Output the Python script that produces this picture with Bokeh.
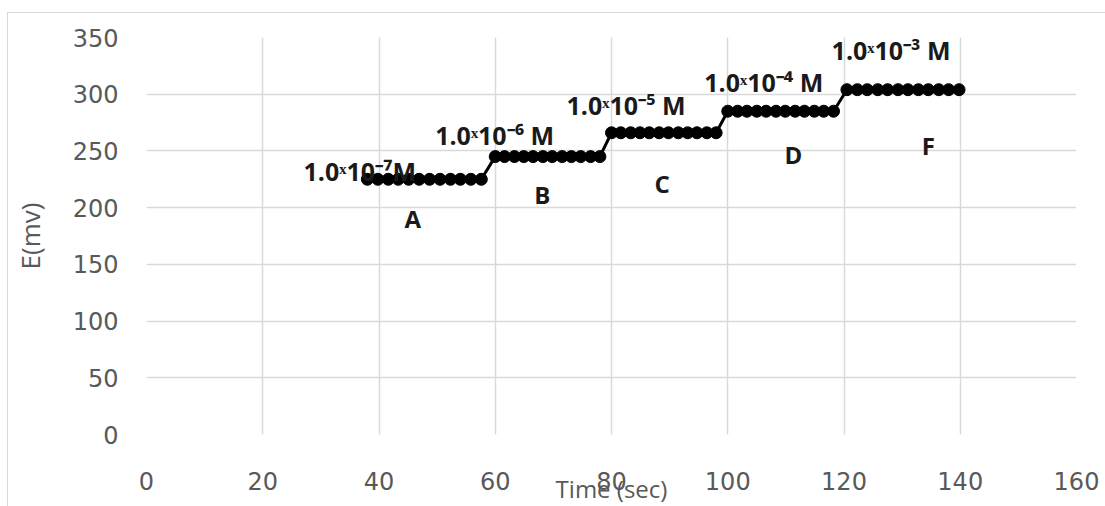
import math
from bokeh.plotting import figure
from bokeh.models import Label, FixedTicker
from bokeh.embed import file_html
from bokeh.resources import INLINE

# ---- data ----
time_a = [38.0, 39.8, 41.6, 43.3, 45.1, 46.9, 48.7, 50.5, 52.3, 54.0, 55.8, 57.6]
e_a = [225, 225, 225, 225, 225, 225, 225, 225, 225, 225, 225, 225]
time_b = [60.0, 61.6, 63.3, 64.9, 66.5, 68.2, 69.8, 71.5, 73.1, 74.7, 76.4, 78.0]
e_b = [245, 245, 245, 245, 245, 245, 245, 245, 245, 245, 245, 245]
time_c = [80.0, 81.6, 83.3, 84.9, 86.5, 88.2, 89.8, 91.5, 93.1, 94.7, 96.4, 98.0]
e_c = [266, 266, 266, 266, 266, 266, 266, 266, 266, 266, 266, 266]
time_d = [100.0, 101.7, 103.3, 105.0, 106.6, 108.3, 109.9, 111.6, 113.2, 114.9, 116.5, 118.2]
e_d = [285, 285, 285, 285, 285, 285, 285, 285, 285, 285, 285, 285]
time_f = [120.5, 122.3, 124.0, 125.8, 127.5, 129.3, 131.0, 132.8, 134.5, 136.3, 138.0, 139.8]
e_f = [304, 304, 304, 304, 304, 304, 304, 304, 304, 304, 304, 304]

conc_labels = ["1.0\u02e310\u207b\u2077M", "1.0\u02e310\u207b\u2076 M", "1.0\u02e310\u207b\u2075 M",
               "1.0\u02e310\u207b\u2074 M", "1.0\u02e310\u207b\u00b3 M"]
conc_x = [36.7, 59.9, 82.5, 106.2, 128.1]
conc_y = [232.3, 264.1, 290.6, 311.0, 339.2]
step_labels = ["A", "B", "C", "D", "F"]
step_x = [45.8, 68.1, 88.7, 111.3, 134.5]
step_y = [190.0, 212.0, 221.7, 246.5, 254.4]

x_ticks = [0, 20, 40, 60, 80, 100, 120, 140, 160]
y_ticks = [0, 50, 100, 150, 200, 250, 300, 350]

times = time_a + time_b + time_c + time_d + time_f
values = e_a + e_b + e_c + e_d + e_f

p = figure(width=1098, height=494, output_backend="svg", toolbar_location=None,
           x_range=(0, 160), y_range=(0, 350),
           min_border_left=135, min_border_right=30, min_border_top=24, min_border_bottom=73,
           margin=(12, 0, 0, 7),
           styles={"border-left": "1px solid #d9d9d9", "border-top": "1px solid #d9d9d9"})
p.outline_line_color = None
p.background_fill_color = "white"
p.border_fill_color = "white"

for ax in (p.xaxis[0], p.yaxis[0]):
    ax.axis_line_color = None
    ax.major_tick_line_color = None
    ax.minor_tick_line_color = None
    ax.major_label_text_font = "DejaVu Sans"
    ax.major_label_text_font_size = "24px"
    ax.major_label_text_color = "#595959"
    ax.axis_label_text_font = "Open Sans"
    ax.axis_label_text_font_style = "normal"
    ax.axis_label_text_color = "#595959"
p.xaxis[0].ticker = FixedTicker(ticks=x_ticks)
p.yaxis[0].ticker = FixedTicker(ticks=y_ticks)
p.xaxis[0].major_label_standoff = 31
p.yaxis[0].major_label_standoff = 22
p.xaxis[0].axis_label = "Time (sec)"
p.xaxis[0].axis_label_text_font_size = "24px"
p.xaxis[0].axis_label_standoff = -21
p.yaxis[0].axis_label = "E(mv)"
p.yaxis[0].axis_label_text_font_size = "26px"
p.yaxis[0].axis_label_standoff = 22

p.xgrid[0].ticker = FixedTicker(ticks=x_ticks)
p.ygrid[0].ticker = FixedTicker(ticks=y_ticks)
p.xgrid[0].grid_line_color = "#d9d9d9"
p.ygrid[0].grid_line_color = "#d9d9d9"
p.xgrid[0].grid_line_width = 1.5
p.ygrid[0].grid_line_width = 1.5

p.line(times, values, line_color="black", line_width=3)
p.scatter(times, values, marker="circle", size=12, fill_color="black", line_color="black")

for t, x, y in zip(conc_labels, conc_x, conc_y):
    p.add_layout(Label(x=x, y=y, text=t, text_align="center", text_baseline="middle",
                       text_font="Open Sans", text_font_size="25px", text_font_style="bold",
                       text_color="#1a1a1a"))
for t, x, y in zip(step_labels, step_x, step_y):
    p.add_layout(Label(x=x, y=y, text=t, text_align="center", text_baseline="middle",
                       text_font="Open Sans", text_font_size="24px", text_font_style="bold",
                       text_color="#1a1a1a"))

open("out.html", "w").write(file_html(p, INLINE))
